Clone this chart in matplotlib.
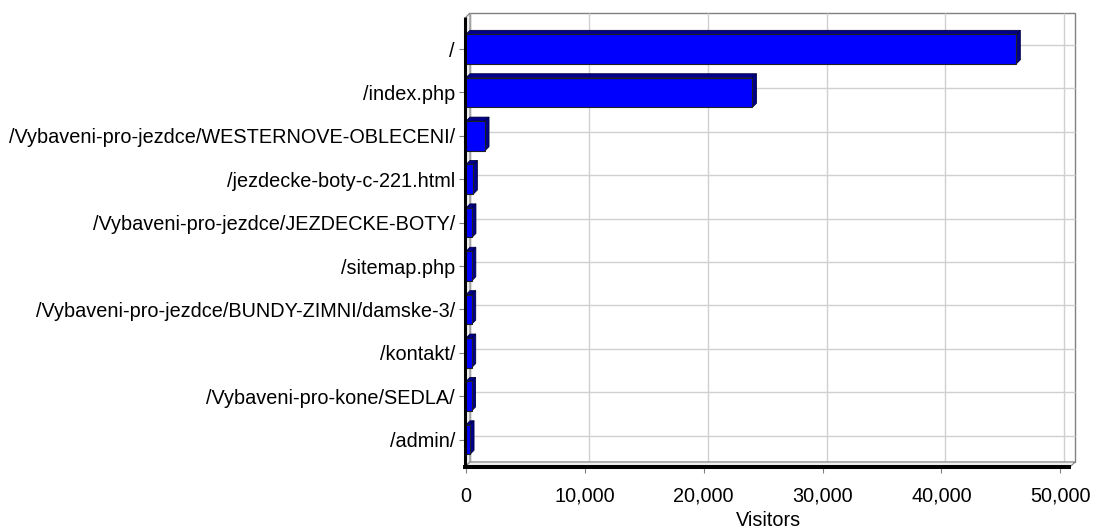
import matplotlib.pyplot as plt
import matplotlib.transforms as mtransforms
from matplotlib.patches import Polygon
import numpy as np

plt.rcParams['font.family'] = ['Liberation Sans', 'DejaVu Sans']

pages = ['/', '/index.php', '/Vybaveni-pro-jezdce/WESTERNOVE-OBLECENI/',
         '/jezdecke-boty-c-221.html', '/Vybaveni-pro-jezdce/JEZDECKE-BOTY/',
         '/sitemap.php', '/Vybaveni-pro-jezdce/BUNDY-ZIMNI/damske-3/',
         '/kontakt/', '/Vybaveni-pro-kone/SEDLA/', '/admin/']
visitors = [46300, 24100, 1600, 620, 500, 490, 480, 480, 470, 340]
xticks = [0, 10000, 20000, 30000, 40000, 50000]

W, H = 1094, 530
fig = plt.figure(figsize=(W / 100, H / 100), dpi=100)
# front plane of the 3d plot, in pixels
x0, x1, ytop, ybot = 466, 1071, 17, 466
ax = fig.add_axes([x0 / W, (H - ybot) / H, (x1 - x0) / W, (ybot - ytop) / H])
xmax = 50900
ax.set_xlim(0, xmax)
ax.set_ylim(9.61, -0.74)
for s in ax.spines.values():
    s.set_visible(False)

d = 4  # depth offset in pixels
ddx = d / (x1 - x0)
ddy = d / (ybot - ytop)
back = mtransforms.offset_copy(ax.transData, fig=fig, x=d, y=d, units='dots')

# back wall with grid
ax.add_patch(Polygon([(ddx, ddy), (1 + ddx, ddy), (1 + ddx, 1 + ddy), (ddx, 1 + ddy)],
                     closed=True, fill=False, ec='#808080', lw=1,
                     transform=ax.transAxes, clip_on=False, zorder=0))
cats = np.arange(len(pages))
ax.vlines(xticks, 9.61, -0.74, colors='#d0d0d0', lw=1, transform=back, clip_on=False, zorder=0.5)
ax.hlines(cats, 0, xmax, colors='#d0d0d0', lw=1, transform=back, clip_on=False, zorder=0.5)

# left wall and floor
ax.add_patch(Polygon([(0, 0), (ddx, ddy), (ddx, 1 + ddy), (0, 1)], closed=True,
                     fc='#f0f0f0', ec='#808080', lw=0.8, transform=ax.transAxes,
                     clip_on=False, zorder=1))
ax.add_patch(Polygon([(0, 0), (ddx, ddy), (1 + ddx, ddy), (1, 0)], closed=True,
                     fc='#f0f0f0', ec='#808080', lw=0.8, transform=ax.transAxes,
                     clip_on=False, zorder=1))
ax.plot([-1.5 / (x1 - x0)] * 2, [-0.004, 1.0], color='black', lw=2.2,
        transform=ax.transAxes, clip_on=False, zorder=4, solid_capstyle='butt')
ax.plot([-3 / (x1 - x0), 1.0], [-0.5 / (ybot - ytop)] * 2, color='black', lw=2.9,
        transform=ax.transAxes, clip_on=False, zorder=4, solid_capstyle='butt')

# 3d bars
h = 0.68
dxd = d * xmax / (x1 - x0)
dyd = d * 10.35 / (ybot - ytop)
for y, v in zip(cats, visitors):
    top = [(0, y - h / 2), (v, y - h / 2), (v + dxd, y - h / 2 - dyd), (dxd, y - h / 2 - dyd)]
    side = [(v, y - h / 2), (v + dxd, y - h / 2 - dyd), (v + dxd, y + h / 2 - dyd), (v, y + h / 2)]
    ax.add_patch(Polygon(top, closed=True, fc='#00008c', ec='#000040', lw=0.6, zorder=2))
    ax.add_patch(Polygon(side, closed=True, fc='#00008c', ec='#000040', lw=0.6, zorder=2))
ax.barh(cats, visitors, height=h, color='#0000ff', edgecolor='#202020', lw=0.8, zorder=3)

ax.set_yticks(cats, pages)
ax.set_xticks(xticks, [f'{t:,}' for t in xticks])
ax.tick_params(axis='both', colors='#808080', length=5, width=0.8, labelsize=14.3,
               labelcolor='black')
ax.tick_params(axis='y', pad=3)
ax.tick_params(axis='x', pad=10)
ax.set_xlabel('Visitors', fontsize=14.3, labelpad=4)

fig.savefig('out.png', dpi=100)
